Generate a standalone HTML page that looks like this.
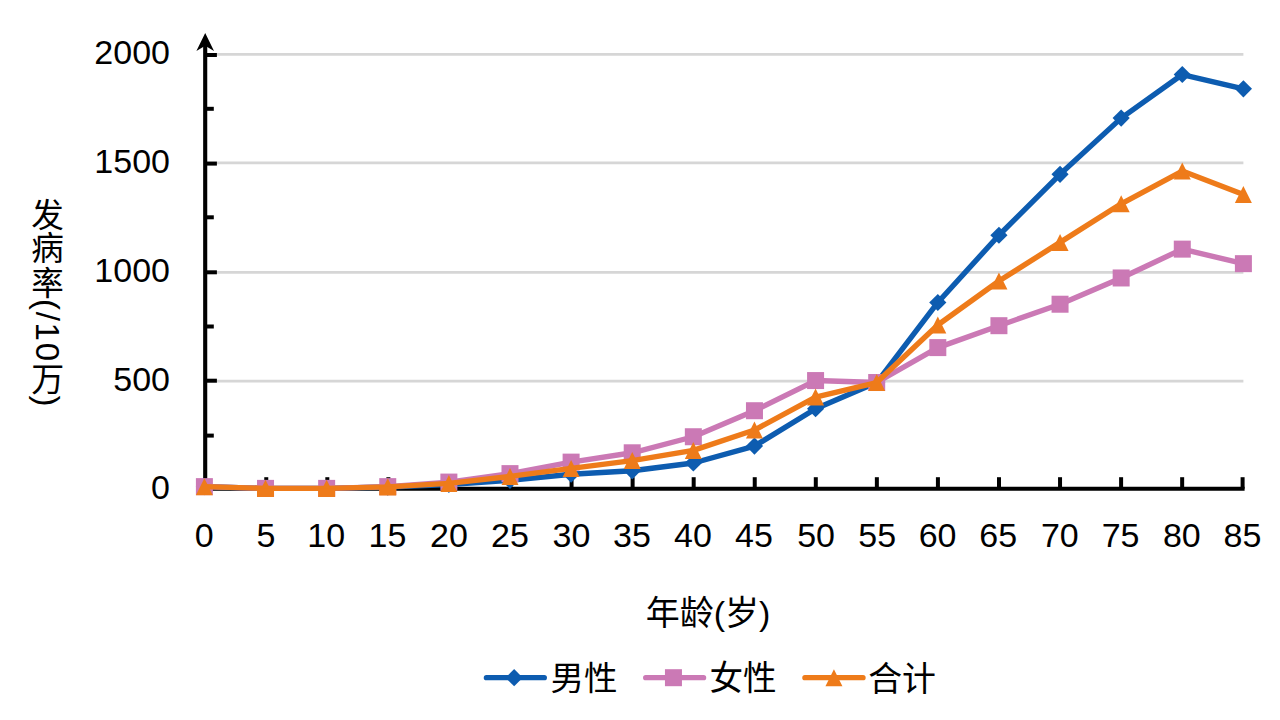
<!DOCTYPE html>
<html><head><meta charset="utf-8"><title>Chart</title>
<style>html,body{margin:0;padding:0;background:#fff;}body{width:1280px;height:720px;overflow:hidden;font-family:"Liberation Sans",sans-serif;}</style>
</head><body><svg width="1280" height="720" viewBox="0 0 1280 720" style="display:block"><line x1="207" x2="1243.4" y1="54.40" y2="54.40" stroke="#d6d6d6" stroke-width="2.6"/>
<line x1="207" x2="1243.4" y1="162.90" y2="162.90" stroke="#d6d6d6" stroke-width="2.6"/>
<line x1="207" x2="1243.4" y1="272.40" y2="272.40" stroke="#d6d6d6" stroke-width="2.6"/>
<line x1="207" x2="1243.4" y1="381.10" y2="381.10" stroke="#d6d6d6" stroke-width="2.6"/>
<path d="M205.2 40 V488.7 H1244.6" fill="none" stroke="#000" stroke-width="4.1" stroke-linejoin="miter"/>
<line x1="205.2" x2="216.89999999999998" y1="55.00" y2="55.00" stroke="#000" stroke-width="4.0"/>
<line x1="205.2" x2="213.79999999999998" y1="108.80" y2="108.80" stroke="#000" stroke-width="4.0"/>
<line x1="205.2" x2="216.89999999999998" y1="163.60" y2="163.60" stroke="#000" stroke-width="4.0"/>
<line x1="205.2" x2="213.79999999999998" y1="217.30" y2="217.30" stroke="#000" stroke-width="4.0"/>
<line x1="205.2" x2="216.89999999999998" y1="272.30" y2="272.30" stroke="#000" stroke-width="4.0"/>
<line x1="205.2" x2="213.79999999999998" y1="326.50" y2="326.50" stroke="#000" stroke-width="4.0"/>
<line x1="205.2" x2="216.89999999999998" y1="380.70" y2="380.70" stroke="#000" stroke-width="4.0"/>
<line x1="205.2" x2="213.79999999999998" y1="435.60" y2="435.60" stroke="#000" stroke-width="4.0"/>
<line x1="266.26" x2="266.26" y1="488.7" y2="477.2" stroke="#000" stroke-width="4.0"/>
<line x1="327.32" x2="327.32" y1="488.7" y2="477.2" stroke="#000" stroke-width="4.0"/>
<line x1="388.38" x2="388.38" y1="488.7" y2="477.2" stroke="#000" stroke-width="4.0"/>
<line x1="449.44" x2="449.44" y1="488.7" y2="477.2" stroke="#000" stroke-width="4.0"/>
<line x1="510.50" x2="510.50" y1="488.7" y2="477.2" stroke="#000" stroke-width="4.0"/>
<line x1="571.56" x2="571.56" y1="488.7" y2="477.2" stroke="#000" stroke-width="4.0"/>
<line x1="632.62" x2="632.62" y1="488.7" y2="477.2" stroke="#000" stroke-width="4.0"/>
<line x1="693.68" x2="693.68" y1="488.7" y2="477.2" stroke="#000" stroke-width="4.0"/>
<line x1="754.74" x2="754.74" y1="488.7" y2="477.2" stroke="#000" stroke-width="4.0"/>
<line x1="815.80" x2="815.80" y1="488.7" y2="477.2" stroke="#000" stroke-width="4.0"/>
<line x1="876.86" x2="876.86" y1="488.7" y2="477.2" stroke="#000" stroke-width="4.0"/>
<line x1="937.92" x2="937.92" y1="488.7" y2="477.2" stroke="#000" stroke-width="4.0"/>
<line x1="998.98" x2="998.98" y1="488.7" y2="477.2" stroke="#000" stroke-width="4.0"/>
<line x1="1060.04" x2="1060.04" y1="488.7" y2="477.2" stroke="#000" stroke-width="4.0"/>
<line x1="1121.10" x2="1121.10" y1="488.7" y2="477.2" stroke="#000" stroke-width="4.0"/>
<line x1="1182.16" x2="1182.16" y1="488.7" y2="477.2" stroke="#000" stroke-width="4.0"/>
<line x1="1242.60" x2="1242.60" y1="488.7" y2="477.2" stroke="#000" stroke-width="4.0"/>
<path d="M205.2 33.0 L214.0 51.0 L205.2 45.8 L196.39999999999998 51.0 Z" fill="#000"/>
<polyline points="204.40,486.63 265.52,488.37 326.64,488.37 387.75,487.06 448.87,484.46 509.99,480.34 571.11,474.27 632.22,470.80 693.34,462.99 754.46,446.07 815.58,408.76 876.69,382.52 937.81,302.48 998.93,235.24 1060.05,174.30 1121.16,118.12 1182.28,74.52 1243.40,88.84" fill="none" stroke="#0d5cb0" stroke-width="5.4" stroke-linejoin="round" stroke-linecap="round"/>
<path d="M204.40 478.03 L213.00 486.63 L204.40 495.23 L195.80 486.63 Z" fill="#0d5cb0"/>
<path d="M265.52 479.77 L274.12 488.37 L265.52 496.97 L256.92 488.37 Z" fill="#0d5cb0"/>
<path d="M326.64 479.77 L335.24 488.37 L326.64 496.97 L318.04 488.37 Z" fill="#0d5cb0"/>
<path d="M387.75 478.46 L396.35 487.06 L387.75 495.66 L379.15 487.06 Z" fill="#0d5cb0"/>
<path d="M448.87 475.86 L457.47 484.46 L448.87 493.06 L440.27 484.46 Z" fill="#0d5cb0"/>
<path d="M509.99 471.74 L518.59 480.34 L509.99 488.94 L501.39 480.34 Z" fill="#0d5cb0"/>
<path d="M571.11 465.67 L579.71 474.27 L571.11 482.87 L562.51 474.27 Z" fill="#0d5cb0"/>
<path d="M632.22 462.20 L640.82 470.80 L632.22 479.40 L623.62 470.80 Z" fill="#0d5cb0"/>
<path d="M693.34 454.39 L701.94 462.99 L693.34 471.59 L684.74 462.99 Z" fill="#0d5cb0"/>
<path d="M754.46 437.47 L763.06 446.07 L754.46 454.67 L745.86 446.07 Z" fill="#0d5cb0"/>
<path d="M815.58 400.16 L824.18 408.76 L815.58 417.36 L806.98 408.76 Z" fill="#0d5cb0"/>
<path d="M876.69 373.92 L885.29 382.52 L876.69 391.12 L868.09 382.52 Z" fill="#0d5cb0"/>
<path d="M937.81 293.88 L946.41 302.48 L937.81 311.08 L929.21 302.48 Z" fill="#0d5cb0"/>
<path d="M998.93 226.64 L1007.53 235.24 L998.93 243.84 L990.33 235.24 Z" fill="#0d5cb0"/>
<path d="M1060.05 165.70 L1068.65 174.30 L1060.05 182.90 L1051.45 174.30 Z" fill="#0d5cb0"/>
<path d="M1121.16 109.52 L1129.76 118.12 L1121.16 126.72 L1112.56 118.12 Z" fill="#0d5cb0"/>
<path d="M1182.28 65.92 L1190.88 74.52 L1182.28 83.12 L1173.68 74.52 Z" fill="#0d5cb0"/>
<path d="M1243.40 80.24 L1252.00 88.84 L1243.40 97.44 L1234.80 88.84 Z" fill="#0d5cb0"/>
<polyline points="204.40,486.63 265.52,488.37 326.64,488.37 387.75,486.63 448.87,482.08 509.99,473.62 571.11,462.12 632.22,452.79 693.34,436.74 754.46,410.72 815.58,380.57 876.69,382.52 937.81,347.60 998.93,325.69 1060.05,304.22 1121.16,277.97 1182.28,249.13 1243.40,263.66" fill="none" stroke="#cb79b5" stroke-width="5.4" stroke-linejoin="round" stroke-linecap="round"/>
<rect x="195.90" y="478.13" width="17.0" height="17.0" fill="#cb79b5"/>
<rect x="257.02" y="479.87" width="17.0" height="17.0" fill="#cb79b5"/>
<rect x="318.14" y="479.87" width="17.0" height="17.0" fill="#cb79b5"/>
<rect x="379.25" y="478.13" width="17.0" height="17.0" fill="#cb79b5"/>
<rect x="440.37" y="473.58" width="17.0" height="17.0" fill="#cb79b5"/>
<rect x="501.49" y="465.12" width="17.0" height="17.0" fill="#cb79b5"/>
<rect x="562.61" y="453.62" width="17.0" height="17.0" fill="#cb79b5"/>
<rect x="623.72" y="444.29" width="17.0" height="17.0" fill="#cb79b5"/>
<rect x="684.84" y="428.24" width="17.0" height="17.0" fill="#cb79b5"/>
<rect x="745.96" y="402.22" width="17.0" height="17.0" fill="#cb79b5"/>
<rect x="807.08" y="372.07" width="17.0" height="17.0" fill="#cb79b5"/>
<rect x="868.19" y="374.02" width="17.0" height="17.0" fill="#cb79b5"/>
<rect x="929.31" y="339.10" width="17.0" height="17.0" fill="#cb79b5"/>
<rect x="990.43" y="317.19" width="17.0" height="17.0" fill="#cb79b5"/>
<rect x="1051.55" y="295.72" width="17.0" height="17.0" fill="#cb79b5"/>
<rect x="1112.66" y="269.47" width="17.0" height="17.0" fill="#cb79b5"/>
<rect x="1173.78" y="240.63" width="17.0" height="17.0" fill="#cb79b5"/>
<rect x="1234.90" y="255.16" width="17.0" height="17.0" fill="#cb79b5"/>
<polyline points="204.40,486.63 265.52,488.37 326.64,488.37 387.75,486.85 448.87,483.38 509.99,476.44 571.11,468.41 632.22,460.60 693.34,450.41 754.46,430.02 815.58,397.05 876.69,382.52 937.81,325.04 998.93,281.01 1060.05,242.40 1121.16,203.79 1182.28,171.04 1243.40,194.47" fill="none" stroke="#ee7b1a" stroke-width="5.4" stroke-linejoin="round" stroke-linecap="round"/>
<path d="M204.40 478.13 L212.90 495.13 L195.90 495.13 Z" fill="#ee7b1a"/>
<path d="M265.52 479.87 L274.02 496.87 L257.02 496.87 Z" fill="#ee7b1a"/>
<rect x="257.02" y="488.37" width="17" height="8.5" fill="#ee7b1a"/>
<path d="M326.64 479.87 L335.14 496.87 L318.14 496.87 Z" fill="#ee7b1a"/>
<rect x="318.14" y="488.37" width="17" height="8.5" fill="#ee7b1a"/>
<path d="M387.75 478.35 L396.25 495.35 L379.25 495.35 Z" fill="#ee7b1a"/>
<rect x="379.25" y="486.85" width="17" height="8.5" fill="#ee7b1a"/>
<path d="M448.87 474.88 L457.37 491.88 L440.37 491.88 Z" fill="#ee7b1a"/>
<path d="M509.99 467.94 L518.49 484.94 L501.49 484.94 Z" fill="#ee7b1a"/>
<path d="M571.11 459.91 L579.61 476.91 L562.61 476.91 Z" fill="#ee7b1a"/>
<path d="M632.22 452.10 L640.72 469.10 L623.72 469.10 Z" fill="#ee7b1a"/>
<path d="M693.34 441.91 L701.84 458.91 L684.84 458.91 Z" fill="#ee7b1a"/>
<path d="M754.46 421.52 L762.96 438.52 L745.96 438.52 Z" fill="#ee7b1a"/>
<path d="M815.58 388.55 L824.08 405.55 L807.08 405.55 Z" fill="#ee7b1a"/>
<path d="M876.69 374.02 L885.19 391.02 L868.19 391.02 Z" fill="#ee7b1a"/>
<path d="M937.81 316.54 L946.31 333.54 L929.31 333.54 Z" fill="#ee7b1a"/>
<path d="M998.93 272.51 L1007.43 289.51 L990.43 289.51 Z" fill="#ee7b1a"/>
<path d="M1060.05 233.90 L1068.55 250.90 L1051.55 250.90 Z" fill="#ee7b1a"/>
<path d="M1121.16 195.29 L1129.66 212.29 L1112.66 212.29 Z" fill="#ee7b1a"/>
<path d="M1182.28 162.54 L1190.78 179.54 L1173.78 179.54 Z" fill="#ee7b1a"/>
<path d="M1243.40 185.97 L1251.90 202.97 L1234.90 202.97 Z" fill="#ee7b1a"/>
<g fill="#000" font-family="&quot;Liberation Sans&quot;, &quot;Noto Sans CJK SC&quot;, sans-serif" font-size="34" text-anchor="end">
<text x="170" y="63.96">2000</text>
<text x="170" y="172.66">1500</text>
<text x="170" y="282.26">1000</text>
<text x="170" y="390.86">500</text>
<text x="170" y="499.26">0</text>
</g>
<g fill="#000" font-family="&quot;Liberation Sans&quot;, &quot;Noto Sans CJK SC&quot;, sans-serif" font-size="34" text-anchor="middle">
<text x="204.2" y="547.16">0</text>
<text x="266.0" y="547.16">5</text>
<text x="326.2" y="547.16">10</text>
<text x="387.4" y="547.16">15</text>
<text x="449.0" y="547.16">20</text>
<text x="509.9" y="547.16">25</text>
<text x="571.5" y="547.16">30</text>
<text x="631.9" y="547.16">35</text>
<text x="692.9" y="547.16">40</text>
<text x="753.9" y="547.16">45</text>
<text x="816.1" y="547.16">50</text>
<text x="877.2" y="547.16">55</text>
<text x="937.6" y="547.16">60</text>
<text x="998.2" y="547.16">65</text>
<text x="1059.8" y="547.16">70</text>
<text x="1120.6" y="547.16">75</text>
<text x="1181.8" y="547.16">80</text>
<text x="1242.5" y="547.16">85</text>
</g>
<text x="708" y="624.84" font-family="&quot;Liberation Sans&quot;, &quot;Noto Sans CJK SC&quot;, sans-serif" font-size="34" fill="#000" text-anchor="middle">年龄(岁)</text>
<line x1="486.4" x2="544.3" y1="677.7" y2="677.7" stroke="#0d5cb0" stroke-width="5.3" stroke-linecap="round"/>
<path d="M514.15 669.10 L522.75 677.70 L514.15 686.30 L505.55 677.70 Z" fill="#0d5cb0"/>
<text x="550.6" y="690.44" font-family="&quot;Liberation Sans&quot;, &quot;Noto Sans CJK SC&quot;, sans-serif" font-size="33.5" fill="#000">男性</text>
<line x1="645.7" x2="703.6" y1="677.7" y2="677.7" stroke="#cb79b5" stroke-width="5.3" stroke-linecap="round"/>
<rect x="664.95" y="669.20" width="17.0" height="17.0" fill="#cb79b5"/>
<text x="709.5" y="690.44" font-family="&quot;Liberation Sans&quot;, &quot;Noto Sans CJK SC&quot;, sans-serif" font-size="33.6" fill="#000">女性</text>
<line x1="804.9" x2="863.0" y1="677.7" y2="677.7" stroke="#ee7b1a" stroke-width="5.3" stroke-linecap="round"/>
<path d="M833.95 669.20 L842.45 686.20 L825.45 686.20 Z" fill="#ee7b1a"/>
<text x="868.2" y="690.64" font-family="&quot;Liberation Sans&quot;, &quot;Noto Sans CJK SC&quot;, sans-serif" font-size="33.9" fill="#000">合计</text>
<g fill="#000" font-family="&quot;Liberation Sans&quot;, &quot;Noto Sans CJK SC&quot;, sans-serif" font-size="32.6">
<text x="31.27" y="226.85">发</text>
<text x="31.31" y="260.10">病</text>
<text x="31.18" y="294.51">率</text>
<text transform="translate(35.5 299.0) rotate(90)" x="0" y="0" font-size="33" textLength="62">(/10</text>
<text x="31.32" y="391.45" font-size="33">万</text>
<text transform="translate(35.5 395.4) rotate(90)" x="0" y="0" font-size="33">)</text>
</g>
</svg></body></html>
